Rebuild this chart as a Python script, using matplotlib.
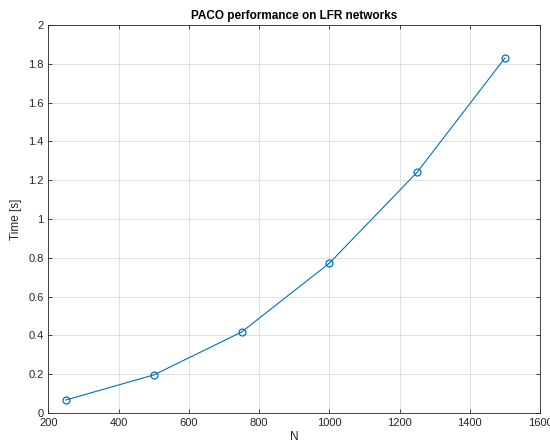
import matplotlib
matplotlib.use('Agg')
import matplotlib.pyplot as plt

plt.rcParams['font.family'] = ['Liberation Sans', 'DejaVu Sans']

n = [250, 500, 750, 1000, 1250, 1500]
tempo = [0.067, 0.196, 0.417, 0.772, 1.241, 1.83]
xticks = [200, 400, 600, 800, 1000, 1200, 1400, 1600]
yticks = [0, 0.2, 0.4, 0.6, 0.8, 1, 1.2, 1.4, 1.6, 1.8, 2]
ylabels = ['0', '0.2', '0.4', '0.6', '0.8', '1', '1.2', '1.4', '1.6', '1.8', '2']

fig = plt.figure(figsize=(5.5, 4.45), dpi=100)
ax = fig.add_axes([0.088, 0.072, 0.894, 0.872])

ax.plot(n, tempo, color='#0072BD', linewidth=0.8, marker='o', markersize=5,
        markerfacecolor='none', markeredgewidth=0.9)

ax.set_xlim(200, 1600)
ax.set_ylim(0, 2)
ax.set_xticks(xticks)
ax.set_yticks(yticks)
ax.set_yticklabels(ylabels)
ax.grid(True, color='#dcdcdc', linewidth=0.6)
ax.set_axisbelow(True)
ax.tick_params(direction='in', top=True, right=True, labelsize=8, length=3,
               colors='#262626', width=0.6)
for s in ax.spines.values():
    s.set_color('#262626')
    s.set_linewidth(0.6)

ax.set_title('PACO performance on LFR networks', fontsize=8.5, fontweight='bold', pad=4)
ax.set_xlabel('N', fontsize=8.5, color='#262626', labelpad=2)
ax.set_ylabel('Time [s]', fontsize=8.5, color='#262626', labelpad=4)

fig.savefig('out.png', dpi=100)
